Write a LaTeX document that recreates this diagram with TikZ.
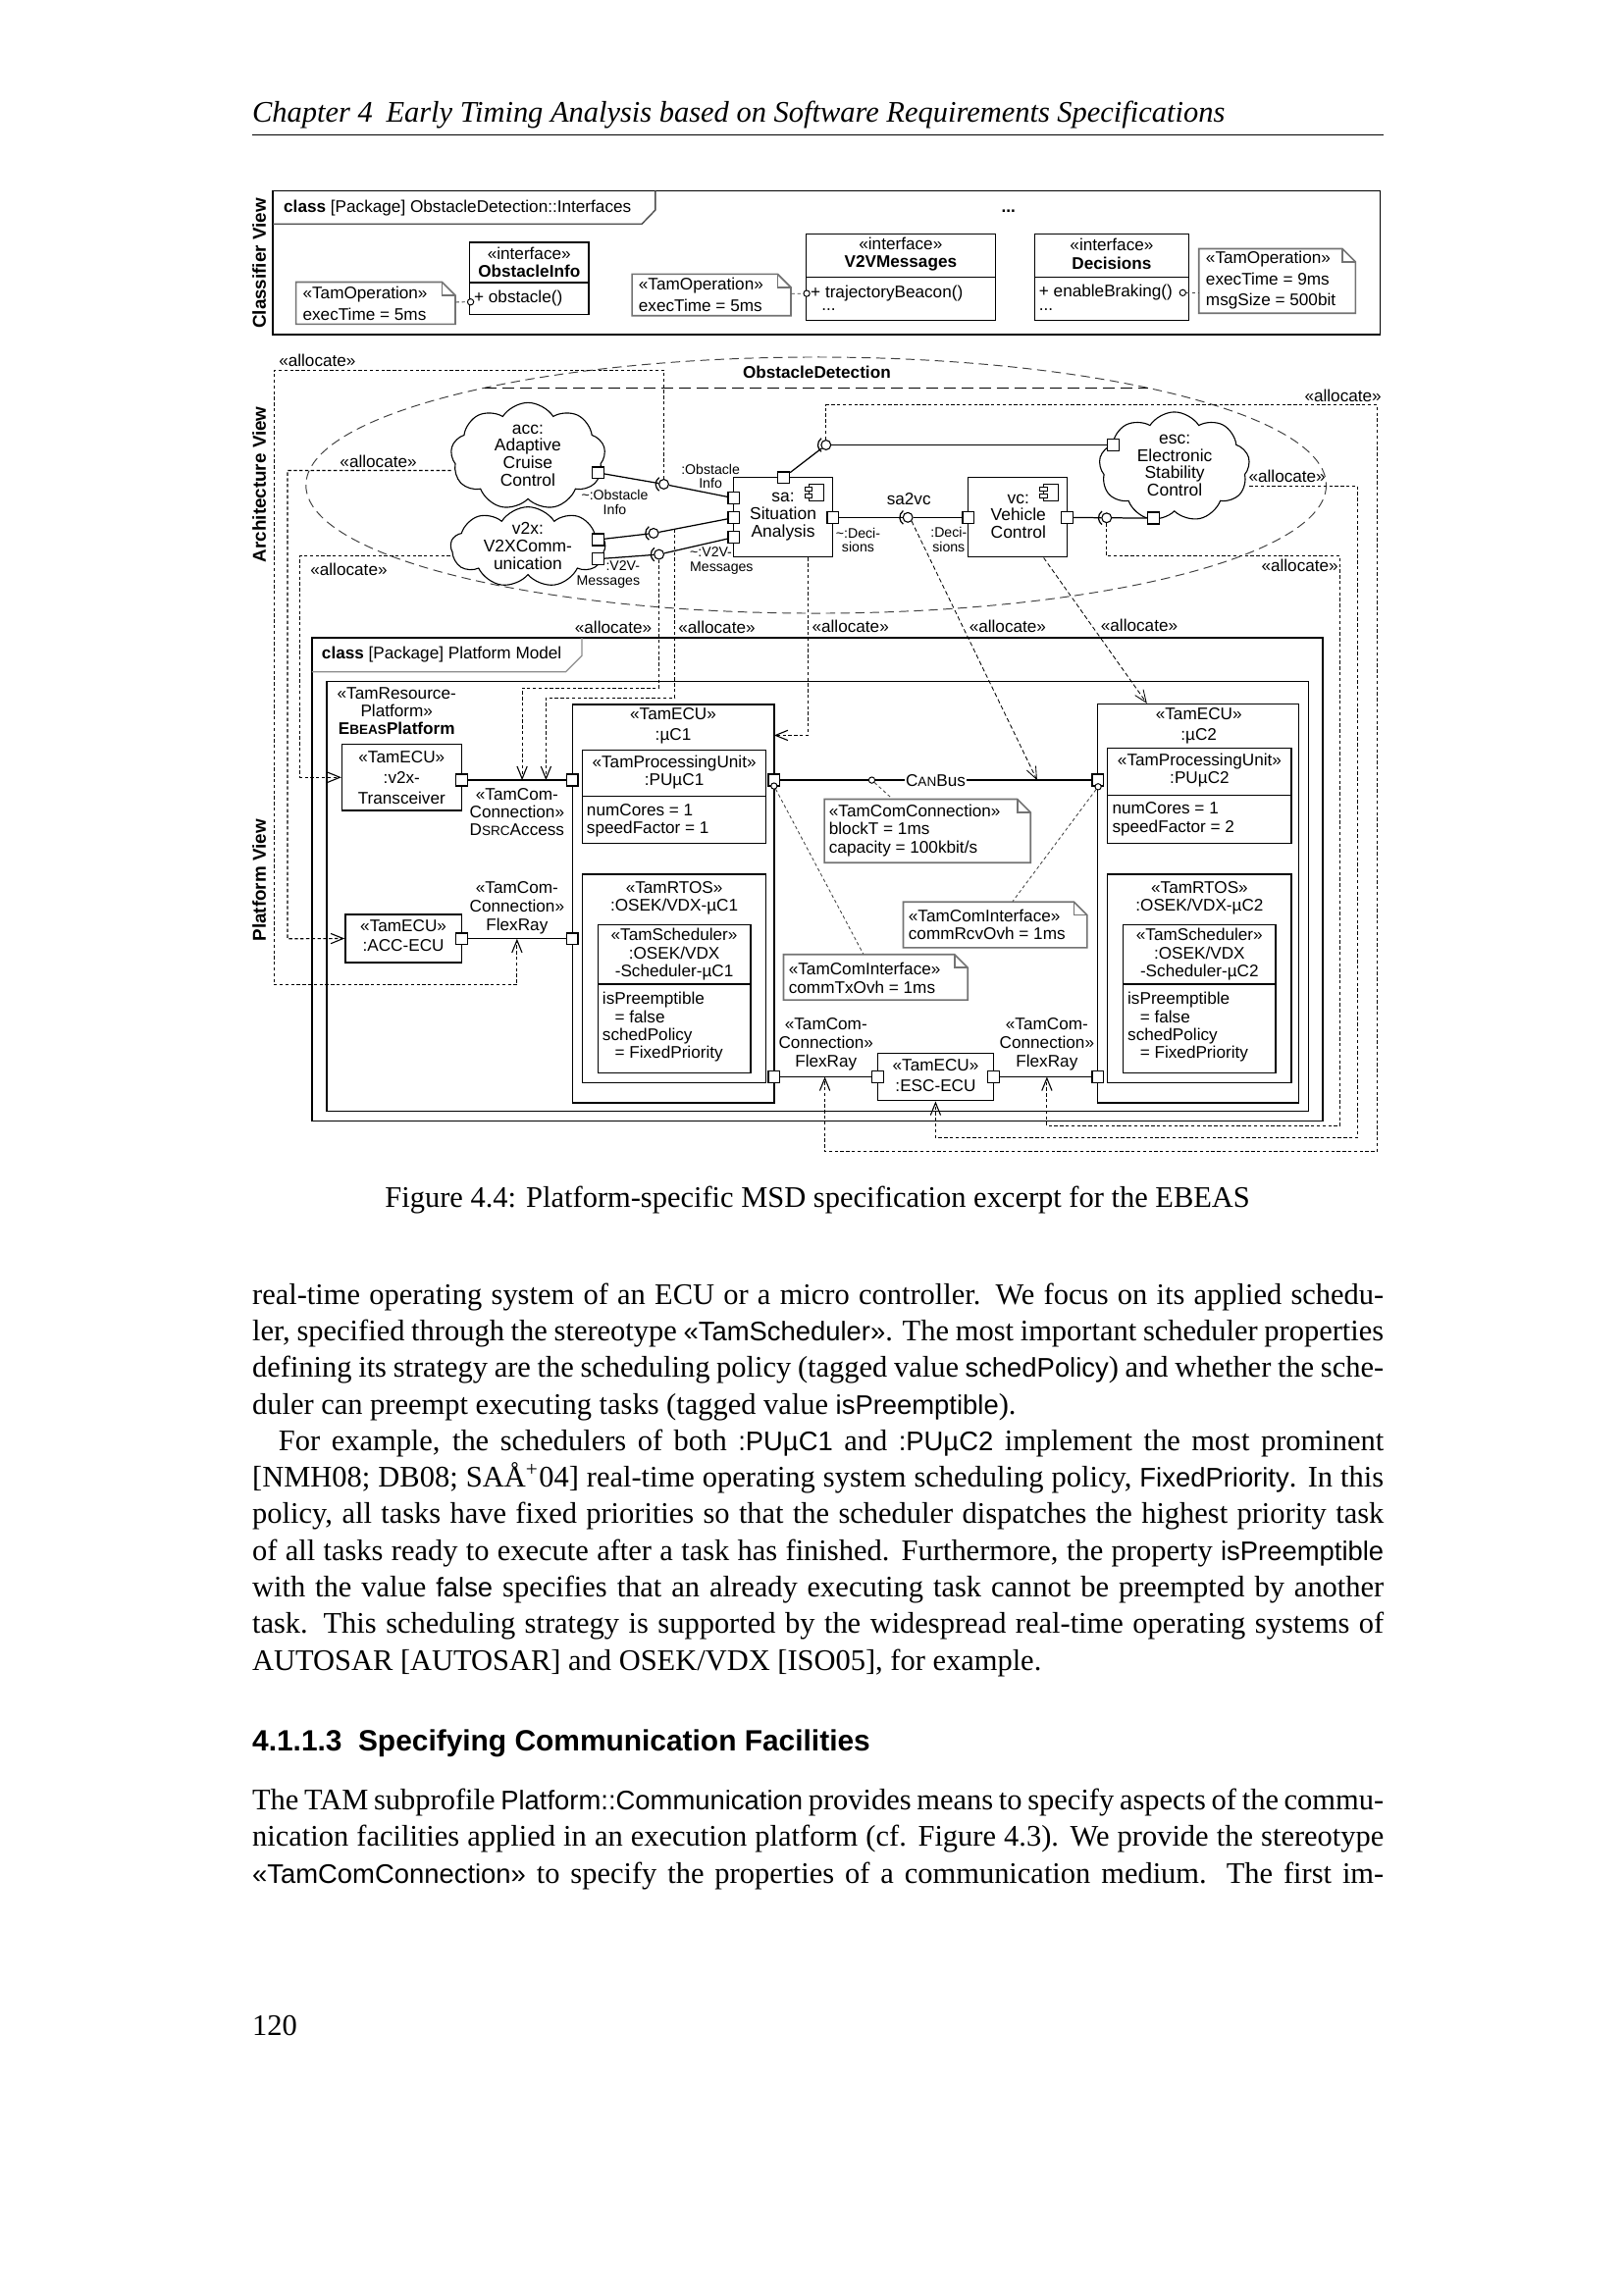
\documentclass[tikz,border=0pt]{standalone}
\usepackage{fontspec}
\setmainfont{Liberation Serif}
\setsansfont{Liberation Sans}
\newfontfamily\bsf{Liberation Sans}[Scale=0.9]
\usetikzlibrary{arrows.meta,positioning,shapes.symbols,fit,calc}
\newcommand\sml[1]{{\fontsize{4.9}{5}\selectfont #1}}
\newcommand\jl[1]{\makebox[146.35mm][s]{#1}}
\newcommand\sock[1]{\draw[wire] ([shift={(125:1.05mm)}]#1.center) arc[start angle=125, end angle=235, radius=1.05mm];}
\newcommand\compicon[2]{%
  \draw[line width=0.35pt, fill=white] (#1,#2) rectangle ++(10,11);
  \draw[line width=0.35pt, fill=white] (#1-2.5,#2+2) rectangle ++(5,2.6);
  \draw[line width=0.35pt, fill=white] (#1-2.5,#2+6.4) rectangle ++(5,2.6);}
\newcommand\dogear[5]{% name, x1, y1, x2, y2
  \node[fit={(#2,#3) (#4,#5)}, inner sep=0pt] (#1) {};
  \draw[notec, fill=white] (#2,#3) -- (#4-9,#3) -- (#4,#3+9) -- (#4,#5) -- (#2,#5) -- cycle;
  \draw[notec] (#4-9,#3) -- (#4-9,#3+9) -- (#4,#3+9);}
\tikzset{
  fig/.style={font=\sffamily\fontsize{6.2}{6.6}\selectfont, inner sep=0pt, align=center},
  figb/.style={fig, font=\sffamily\bfseries\fontsize{6.2}{6.6}\selectfont},
  figw/.style={fig, font=\sffamily\fontsize{6.2}{7.5}\selectfont},
  notet/.style={fig, align=left, anchor=west, font=\sffamily\fontsize{6.2}{7.7}\selectfont},
  notes/.style={fig, align=left, anchor=west},
  cldt/.style={fig, font=\sffamily\fontsize{6.3}{6.45}\selectfont},
  prt/.style={font=\sffamily\fontsize{5.1}{5.3}\selectfont, inner sep=0pt, align=center},
  vlbl/.style={font=\sffamily\bfseries\fontsize{6.8}{7}\selectfont, inner sep=0pt, rotate=90},
  frm/.style={draw, line width=0.6pt, inner sep=0pt},
  tabline/.style={line width=0.5pt, black!70},
  blk/.style={draw, line width=0.5pt, fill=white, inner sep=0pt},
  sep/.style={line width=0.5pt},
  port/.style={draw, line width=0.5pt, fill=white, minimum size=1.5mm, inner sep=0pt},
  ball/.style={circle, draw, line width=0.4pt, fill=white, minimum size=1.25mm, inner sep=0pt},
  tdot/.style={circle, draw, line width=0.35pt, fill=white, minimum size=0.8mm, inner sep=0pt},
  cld/.style={cloud, draw, line width=0.4pt, cloud puffs=9, cloud puff arc=115, aspect=1.5, inner sep=0pt},
  wire/.style={line width=0.45pt},
  alloc/.style={line width=0.4pt, dash pattern=on 1.2pt off 0.9pt, -{Straight Barb[length=1.6mm,width=1.3mm]}},
  salloc/.style={alloc, line width=0.3pt, dash pattern=on 1.6pt off 1pt},
  ndash/.style={line width=0.3pt, dash pattern=on 1.2pt off 1pt, black!75},
  notec/.style={draw=black!55, line width=0.6pt},
  ell/.style={line width=0.35pt, black!75, dash pattern=on 3.4pt off 2pt},
  chord/.style={line width=0.5pt, dash pattern=on 4.5pt off 2pt},
  bodyl/.style={anchor=base west, inner sep=0pt, font=\fontsize{11}{13.4}\selectfont}
}

\begin{document}
\begin{tikzpicture}[x=0.18933mm, y=-0.18933mm]
\useasboundingbox (0,0) rectangle (1109,1568);
\fill[white] (0,0) rectangle (1109,1568);

% running head
\node[bodyl, font=\itshape\fontsize{11}{13.4}\selectfont] (head) at (172,83.5) {Chapter 4\hspace{0.45em}Early Timing Analysis based on Software Requirements Specifications};
\draw[line width=0.45pt] (172,92) -- (945,92);

% ---- classifier view
\node[vlbl] (lcv) at (177,180) {Classifier View};
\node[frm, fit={(186.5,130.3) (942.9,228.6)}] (cview) {};
\draw[tabline] (186.5,153) -- (438.5,153) -- (447.7,143.5) -- (447.7,130.3);
\node[fig, anchor=west] (cviewt) at (193.5,142) {\textbf{class} [Package] ObstacleDetection::Interfaces};
\node[figb] (more) at (689,144.5) {...};

\node[blk, fit={(320.8,165.5) (402.3,215)}] (oinfo) {};
\draw[sep] (320.8,193) -- (402.3,193);
\node[fig] (oinfot) at (361.5,179.4) {«interface»\\\textbf{ObstacleInfo}};
\node[notes] (oinfoo) at (323.5,204) {+ obstacle()};

\node[blk, fit={(550.5,159.8) (680,219)}] (v2vm) {};
\draw[sep] (550.5,189.5) -- (680,189.5);
\node[fig] (v2vmt) at (615.3,173.6) {«interface»\\\textbf{V2VMessages}};
\node[notes] (v2vmo) at (553.5,200.5) {+ trajectoryBeacon()};
\node[notes] (v2vmd) at (561,211.5) {...};

\node[blk, fit={(707,159.8) (812,219)}] (deci) {};
\draw[sep] (707,189.5) -- (812,189.5);
\node[fig] (decit) at (759.5,173.6) {«interface»\\\textbf{Decisions}};
\node[notes] (decio) at (709.5,199.5) {+ enableBraking()};
\node[notes] (decid) at (709.5,211.5) {...};

\dogear{nop1}{202.2}{192.7}{311}{221.5}
\node[notet] (nop1t) at (206.5,207.3) {«TamOperation»\\execTime = 5ms};
\dogear{nop2}{431.8}{187.3}{540.3}{215.7}
\node[notet] (nop2t) at (436,201.3) {«TamOperation»\\execTime = 5ms};
\dogear{nop3}{819}{169.9}{926}{214}
\node[notet] (nop3t) at (823.5,191.5) {«TamOperation»\\execTime = 9ms\\msgSize = 500bit};
\node[tdot] (c1) at (321.5,206.3) {};
\node[tdot] (c2) at (551.1,200.5) {};
\node[tdot] (c3) at (808,200) {};
\draw[ndash] (nop1) -- (c1);
\draw[ndash] (nop2) -- (c2);
\draw[ndash] (c3) -- (nop3.west |- c3);

% ---- architecture view
\node[vlbl] (lav) at (177,331) {Architecture View};
\draw[ell] (557.5,331.5) ellipse [x radius=348.5, y radius=87.5];
\draw[chord] (331,265) -- (784,265);
\node[figb] (odet) at (558,254) {ObstacleDetection};

\node[cld, minimum width=20mm, minimum height=13.9mm] (acc) at (360.7,311.8) {};
\node[cldt] (acct) at (360.6,311.2) {acc:\\Adaptive\\Cruise\\Control};
\node[cld, minimum width=20mm, minimum height=10.4mm] (v2x) at (360.7,373.8) {};
\node[cldt] (v2xt) at (360.6,373.2) {v2x:\\V2XComm-\\unication};
\node[cld, minimum width=19.5mm, minimum height=14.2mm] (esc) at (802.3,319) {};
\node[cldt] (esct) at (802.5,318) {esc:\\Electronic\\Stability\\Control};
\node[port] (pacc) at (408.5,323) {};
\node[port] (pv1) at (408.5,368.7) {};
\node[port] (pv2) at (408.5,381.9) {};
\node[port] (pesct) at (760.5,304) {};
\node[port] (pescb) at (787.9,354) {};

\node[blk, fit={(501.3,326.3) (569,380.6)}] (sa) {};
\node[cldt] (sat) at (535,352.8) {sa:\\Situation\\Analysis};
\compicon{552.5}{331}
\node[port] (psat) at (535.3,326.3) {};
\node[port] (psa1) at (501.3,340.3) {};
\node[port] (psa2) at (501.3,353.7) {};
\node[port] (psa3) at (501.3,367.1) {};
\node[port] (psar) at (569,353.5) {};
\node[blk, fit={(661.5,326.3) (729,380.6)}] (vc) {};
\node[cldt] (vct) at (695.7,352.8) {vc:\\Vehicle\\Control};
\compicon{713}{331}
\node[port] (pvcl) at (661.5,353.5) {};
\node[port] (pvcr) at (729,353.5) {};

\node[ball] (bacc) at (453.5,330.8) {};
\node[ball] (bv1) at (446.5,364.3) {};
\node[ball] (bv2) at (450.2,378.8) {};
\node[ball] (besc) at (564.3,304) {};
\node[ball] (bsv) at (620.2,353.5) {};
\node[ball] (bve) at (756,353.8) {};
\draw[wire] (pacc) -- (bacc); \draw[wire] (bacc) -- (psa1);
\draw[wire] (pv1) -- (bv1); \draw[wire] (bv1) -- (psa2);
\draw[wire] (pv2) -- (bv2); \draw[wire] (bv2) -- (psa3);
\draw[wire] (psat) -- (besc); \draw[wire] (besc) -- (pesct);
\draw[wire] (psar) -- (bsv); \draw[wire] (bsv) -- (pvcl);
\draw[wire] (pvcr) -- (bve); \draw[wire] (bve) -- (pescb);
\foreach \b in {bacc,bv1,bv2,besc,bsv,bve} {\sock{\b}}

\node[prt] (lobi) at (485.4,325.5) {:Obstacle\\Info};
\node[prt] (lobr) at (420,343) {\textasciitilde:Obstacle\\Info};
\node[prt, align=right, anchor=east] (lvm) at (437.5,392.5) {:V2V-\\Messages};
\node[prt, align=left, anchor=west] (lvmr) at (471,383) {\textasciitilde:V2V-\\Messages};
\node[prt] (ldr) at (586.2,369) {\textasciitilde:Deci-\\sions};
\node[prt] (ldp) at (648.1,368.7) {:Deci-\\sions};
\node[fig] (lsv) at (620.9,340.8) {sa2vc};

% ---- platform view
\node[vlbl] (lpv) at (177,601.5) {Platform View};
\node[frm, fit={(213.1,435.8) (903.8,766)}] (pview) {};
\draw[tabline, black!45] (213.1,459) -- (386.5,459) -- (397.5,448) -- (397.5,435.8);
\node[fig, anchor=west] (pviewt) at (219.5,447.5) {\textbf{class} [Package] Platform Model};
\node[frm, fit={(223.4,465.5) (894,759.2)}] (ebeas) {};
\node[fig] (ebeast) at (271,485.8) {«TamResource-\\Platform»\\\textbf{E\sml{BEAS}Platform}};

\node[blk, fit={(233.7,508.4) (315.4,553.8)}] (v2xtr) {};
\node[figw] (v2xtrt) at (274.4,531.2) {«TamECU»\\:v2x-\\Transceiver};
\node[port] (pv2xtr) at (315.4,533) {};
\node[blk, fit={(235.9,624.7) (315.4,657.7)}] (accecu) {};
\node[figw] (accecut) at (275.6,639.2) {«TamECU»\\:ACC-ECU};
\node[port] (paccecu) at (315.4,641.4) {};

% uC1
\node[blk, fit={(391,481.2) (528.8,753.6)}] (uc1) {};
\node[figw] (uc1t) at (459.9,496) {«TamECU»\\:µC1};
\node[blk, fit={(397.8,512.5) (523.4,576)}] (pu1) {};
\draw[sep] (397.8,544.2) -- (523.4,544.2);
\node[fig] (pu1t) at (460.6,527.5) {«TamProcessingUnit»\\:PUµC1};
\node[notes] (pu1a) at (400.5,560.6) {numCores = 1\\speedFactor = 1};
\node[blk, fit={(397.8,597.2) (523.4,739.7)}] (os1) {};
\node[fig] (os1t) at (460.6,613.5) {«TamRTOS»\\:OSEK/VDX-µC1};
\node[blk, fit={(408.5,631.8) (512.7,733)}] (sc1) {};
\draw[sep] (408.5,672.3) -- (512.7,672.3);
\node[fig] (sc1t) at (460.6,652) {«TamScheduler»\\:OSEK/VDX\\-Scheduler-µC1};
\node[notes] (sc1a) at (411.2,701.8) {isPreemptible\\\hspace*{1.6mm}= false\\schedPolicy\\\hspace*{1.6mm}= FixedPriority};
\node[port] (puc1l) at (391,533) {};
\node[port] (puc1f) at (391,641.4) {};
\node[port] (puc1r) at (528.8,533) {};
\node[port] (puc1b) at (528.8,735.7) {};

% uC2
\node[blk, fit={(749.9,481) (887.4,753.6)}] (uc2) {};
\node[figw] (uc2t) at (819,495.8) {«TamECU»\\:µC2};
\node[blk, fit={(756.7,511) (882.2,576)}] (pu2) {};
\draw[sep] (756.7,543.5) -- (882.2,543.5);
\node[fig] (pu2t) at (819.5,526.5) {«TamProcessingUnit»\\:PUµC2};
\node[notes] (pu2a) at (759.5,559.6) {numCores = 1\\speedFactor = 2};
\node[blk, fit={(756.7,597.2) (882.2,739.7)}] (os2) {};
\node[fig] (os2t) at (819.5,613.5) {«TamRTOS»\\:OSEK/VDX-µC2};
\node[blk, fit={(767.2,631.8) (871.6,733)}] (sc2) {};
\draw[sep] (767.2,672.3) -- (871.6,672.3);
\node[fig] (sc2t) at (819.4,652) {«TamScheduler»\\:OSEK/VDX\\-Scheduler-µC2};
\node[notes] (sc2a) at (770,701.8) {isPreemptible\\\hspace*{1.6mm}= false\\schedPolicy\\\hspace*{1.6mm}= FixedPriority};
\node[port] (puc2l) at (750,533) {};
\node[port] (puc2b) at (750,735.7) {};

% ESC ECU
\node[blk, fit={(599.5,719.6) (678.8,752)}] (escecu) {};
\node[figw] (escecut) at (639.2,734.6) {«TamECU»\\:ESC-ECU};
\node[port] (pescl) at (599.5,735.7) {};
\node[port] (pescr) at (678.8,735.7) {};

% communication links
\draw[wire] (pv2xtr) -- (puc1l);
\node[fig] (ldsrc) at (353.2,554.7) {«TamCom-\\Connection»\\D\sml{SRC}Access};
\draw[wire] (paccecu) -- (puc1f);
\node[figw, font=\sffamily\fontsize{6.2}{6.9}\selectfont] (lfr1) at (353.2,620.3) {«TamCom-\\Connection»\\FlexRay};
\draw[wire] (puc1r) -- (puc2l);
\node[fig, fill=white, inner xsep=0.4pt] (lcan) at (639.2,533) {C\sml{AN}Bus};
\draw[wire] (puc1b) -- (pescl);
\draw[wire] (pescr) -- (puc2b);
\node[figw, font=\sffamily\fontsize{6.2}{6.9}\selectfont] (lfr2) at (564.3,713.4) {«TamCom-\\Connection»\\FlexRay};
\node[figw, font=\sffamily\fontsize{6.2}{6.9}\selectfont] (lfr3) at (715.2,713.4) {«TamCom-\\Connection»\\FlexRay};

% notes
\dogear{ncan}{563.2}{546}{704}{589.4}
\node[notes] (ncant) at (566,567.4) {«TamComConnection»\\blockT = 1ms\\capacity = 100kbit/s};
\dogear{ntx}{535.3}{652.1}{661.1}{683.2}
\node[notes] (ntxt) at (538.5,668.2) {«TamComInterface»\\commTxOvh = 1ms};
\dogear{nrcv}{617.1}{616.2}{742.7}{647.5}
\node[notes] (nrcvt) at (620.3,631.7) {«TamComInterface»\\commRcvOvh = 1ms};
\node[tdot] (dcan) at (595.6,533) {};
\node[tdot] (duc1) at (528.8,537) {};
\node[tdot] (duc2) at (750.2,537.5) {};
\draw[ndash] (dcan) -- (ncan);
\draw[ndash] (duc1) -- (ntx);
\draw[ndash] (duc2) -- (nrcv);

% ---- allocations
\coordinate (fr1) at (353.2,641.4);
\coordinate (fr2) at (563.5,735.7);
\coordinate (fr3) at (715.2,735.7);
\coordinate (ds1) at (356.7,533);
\coordinate (ds2) at (373,533);
\coordinate (can1) at (708.5,533);
\coordinate (a5) at (528.8,502.4);
\coordinate (cv1) at (461,361.5);
\draw[alloc] (bacc.north) |- (187.5,252.8) |- (353.2,673) -- (fr1);
\draw[alloc] ([yshift=-1.82mm]acc.west) -| (196.4,641.4) -- (accecu.west);
\draw[alloc] ([yshift=-1.08mm]v2x.west) -| (205,531.1) -- (v2xtr.west);
\draw[alloc] (bv2.south) |- (356.7,470) -- (ds1);
\draw[alloc] (cv1) |- (373,476.7) -- (ds2);
\draw[alloc] ([xshift=3.2mm]sa.south) |- (a5);
\draw[salloc] (bsv.south east) -- (can1);
\draw[salloc] ([xshift=3.36mm]vc.south) -- ([xshift=-6.65mm]uc2.north);
\draw[alloc] ([yshift=-2.46mm]esc.east) -| (927.3,777.3) -| (escecu.south);
\draw[alloc] (besc.north) |- (940.9,276.7) |- (563.5,786.7) -- (fr2);
\draw[alloc] (bve.south) |- (915.4,380) |- (715.2,769.2) -- (fr3);
\node[fig] (al1) at (216.8,246.5) {«allocate»};
\node[fig] (al2) at (258.5,315) {«allocate»};
\node[fig] (al3) at (238.3,388.9) {«allocate»};
\node[fig] (al4) at (419,428.5) {«allocate»};
\node[fig] (al5) at (489.7,428.5) {«allocate»};
\node[fig] (al6) at (581,428) {«allocate»};
\node[fig] (al7) at (688.4,428) {«allocate»};
\node[fig] (al8) at (778.3,427.3) {«allocate»};
\node[fig] (al9) at (917.5,270.4) {«allocate»};
\node[fig] (al10) at (879.3,325.2) {«allocate»};
\node[fig] (al11) at (888,386.6) {«allocate»};

% ---- caption and text
\node[anchor=base, inner sep=0pt, font=\fontsize{11}{13.4}\selectfont] (cap) at (558.5,825) {Figure 4.4: Platform-specific MSD specification excerpt for the EBEAS};
\node[bodyl] (l1) at (172,891) {\jl{real-time operating system of an ECU or a micro controller. We focus on its applied schedu-}};
\node[bodyl] (l2) at (172,916) {\jl{ler, specified through the stereotype {\bsf «TamScheduler»}. The most important scheduler properties}};
\node[bodyl] (l3) at (172,941) {\jl{defining its strategy are the scheduling policy (tagged value {\bsf schedPolicy}) and whether the sche-}};
\node[bodyl] (l4) at (172,966) {duler can preempt executing tasks (tagged value {\bsf isPreemptible}).};
\node[bodyl] (l5) at (190,991) {\makebox[142.94mm][s]{For example, the schedulers of both {\bsf :PUµC1} and {\bsf :PUµC2} implement the most prominent}};
\node[bodyl] (l6) at (172,1016) {\jl{[NMH08; DB08; SAÅ\textsuperscript{+}04] real-time operating system scheduling policy, {\bsf FixedPriority}. In this}};
\node[bodyl] (l7) at (172,1041) {\jl{policy, all tasks have fixed priorities so that the scheduler dispatches the highest priority task}};
\node[bodyl] (l8) at (172,1066) {\jl{of all tasks ready to execute after a task has finished. Furthermore, the property {\bsf isPreemptible}}};
\node[bodyl] (l9) at (172,1091) {\jl{with the value {\bsf false} specifies that an already executing task cannot be preempted by another}};
\node[bodyl] (l10) at (172,1116) {\jl{task. This scheduling strategy is supported by the widespread real-time operating systems of}};
\node[bodyl] (l11) at (172,1141) {AUTOSAR [AUTOSAR] and OSEK/VDX [ISO05], for example.};
\node[bodyl, font=\sffamily\bfseries\fontsize{10.8}{13}\selectfont] (sec) at (172,1196.5) {4.1.1.3\hspace{0.55em}Specifying Communication Facilities};
\node[bodyl] (l12) at (172,1236.5) {\jl{The TAM subprofile {\bsf Platform::Communication} provides means to specify aspects of the commu-}};
\node[bodyl] (l13) at (172,1261.5) {\jl{nication facilities applied in an execution platform (cf. Figure 4.3). We provide the stereotype}};
\node[bodyl] (l14) at (172,1286.5) {\jl{{\bsf «TamComConnection»} to specify the properties of a communication medium. The first im-}};
\node[bodyl] (pg) at (172,1391) {120};
\end{tikzpicture}
\end{document}
